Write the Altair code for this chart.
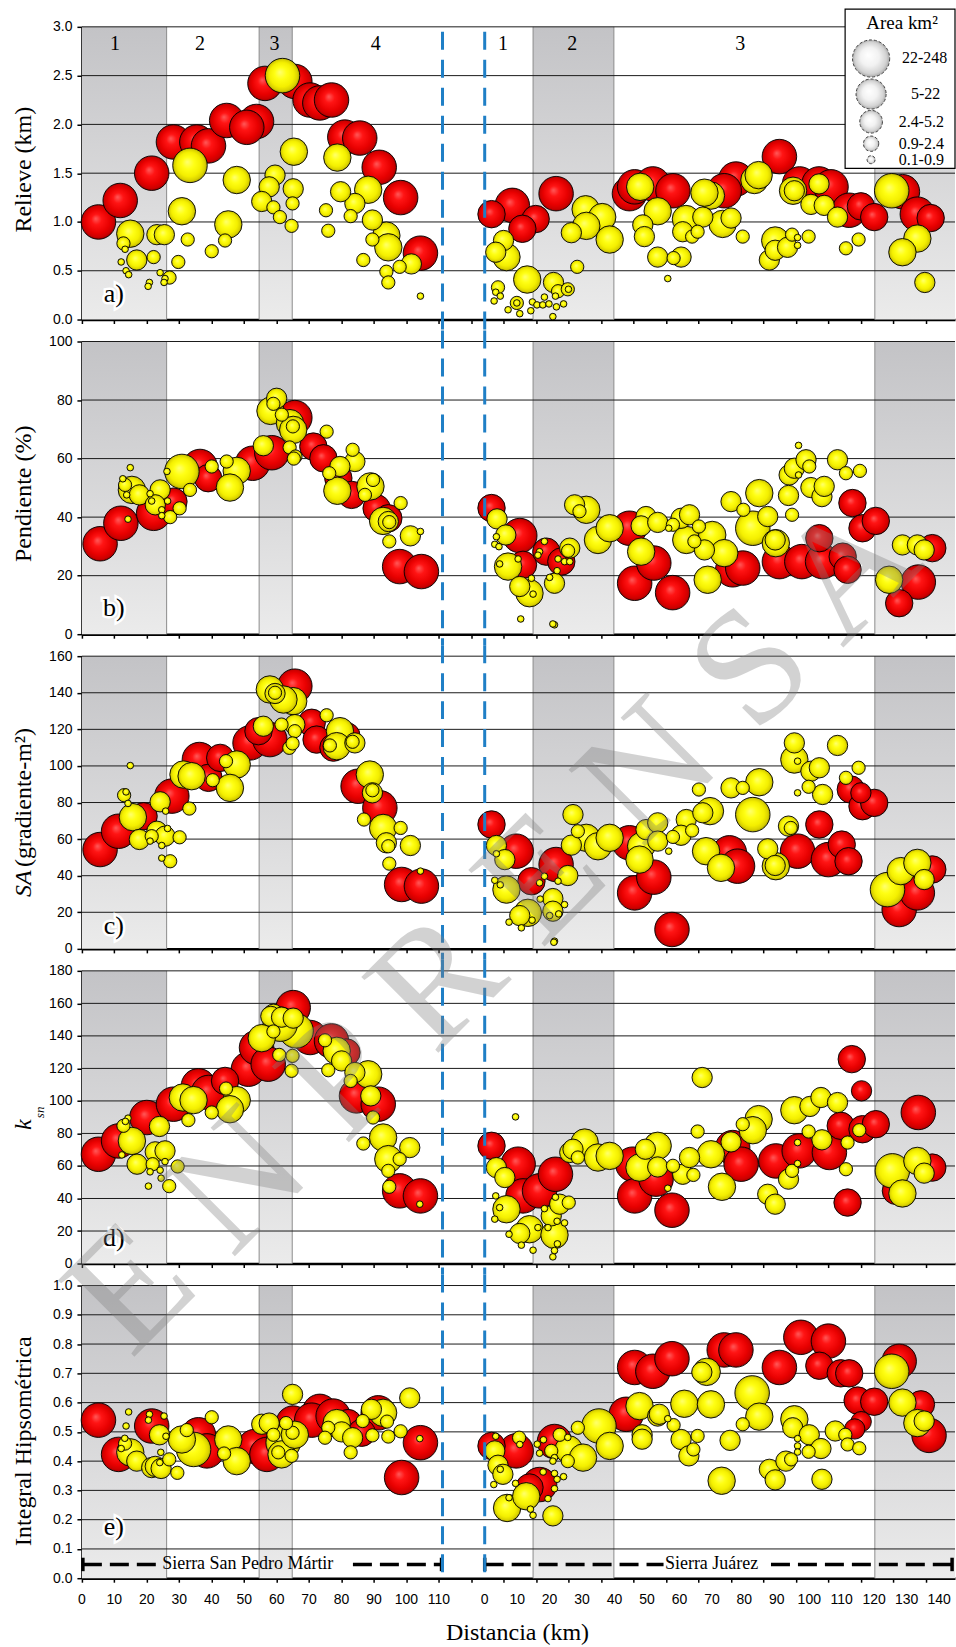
import altair as alt
import pandas as pd

# Bubble records: (sierra, distance km, value, area class)
# sierra: "L" = Sierra San Pedro Mártir, "R" = Sierra Juárez
# area class: 1 = 22-248, 2 = 5-22, 3 = 2.4-5.2, 4 = 0.9-2.4, 5 = 0.1-0.9 km²

A_RED = [
    ("L", 5.1, 1.00, 1), ("L", 11.8, 1.22, 1), ("L", 21.5, 1.50, 1), ("L", 28.2, 1.82, 1),
    ("L", 35.4, 1.82, 1), ("L", 39.0, 1.78, 1), ("L", 44.6, 2.04, 1), ("L", 53.8, 2.03, 1),
    ("L", 50.8, 1.97, 1), ("L", 56.4, 2.42, 1), ("L", 65.6, 2.44, 1), ("L", 70.3, 2.25, 1),
    ("L", 73.3, 2.22, 1), ("L", 76.9, 2.25, 1), ("L", 81.0, 1.87, 1), ("L", 85.6, 1.86, 1),
    ("L", 91.6, 1.56, 1), ("L", 98.2, 1.25, 1), ("L", 104.3, 0.68, 1),
    ("R", 2.1, 1.08, 2), ("R", 8.5, 1.17, 1), ("R", 15.7, 1.03, 2), ("R", 11.6, 0.93, 2),
    ("R", 22.0, 1.29, 1), ("R", 44.6, 1.29, 1), ("R", 46.2, 1.36, 1), ("R", 51.8, 1.39, 1),
    ("R", 58.0, 1.32, 1), ("R", 77.4, 1.44, 1), ("R", 73.8, 1.32, 1), ("R", 90.8, 1.67, 1),
    ("R", 97.0, 1.39, 1), ("R", 103.0, 1.39, 1), ("R", 106.7, 1.36, 1), ("R", 112.3, 1.12, 1),
    ("R", 115.9, 1.16, 2), ("R", 120.0, 1.05, 2), ("R", 128.7, 1.31, 1), ("R", 133.3, 1.08, 1),
    ("R", 137.4, 1.04, 2),
]
A_YEL = [
    ("L", 61.8, 2.50, 1), ("L", 33.3, 1.58, 1), ("L", 47.7, 1.43, 2), ("L", 65.3, 1.72, 2),
    ("L", 78.7, 1.66, 2), ("L", 30.8, 1.11, 2), ("L", 45.1, 0.975, 2), ("L", 14.9, 0.88, 2),
    ("L", 23.1, 0.87, 3), ("L", 25.4, 0.87, 3), ("L", 88.2, 1.33, 2), ("L", 93.8, 0.86, 2),
    ("L", 94.4, 0.74, 2), ("L", 101.5, 0.57, 3), ("L", 89.5, 1.02, 3), ("L", 84.1, 1.19, 3),
    ("L", 79.7, 1.31, 3), ("L", 59.5, 1.48, 3), ("L", 57.7, 1.36, 3), ("L", 55.4, 1.21, 3),
    ("L", 65.1, 1.34, 3), ("L", 16.9, 0.61, 3),
    ("L", 59.0, 1.15, 4), ("L", 61.0, 1.05, 4), ("L", 64.9, 1.19, 4), ("L", 64.6, 0.96, 4),
    ("L", 75.2, 1.12, 4), ("L", 75.9, 0.91, 4), ("L", 82.8, 1.06, 4), ("L", 89.5, 0.82, 4),
    ("L", 86.7, 0.61, 4), ("L", 97.9, 0.54, 4), ("L", 93.8, 0.49, 4), ("L", 94.4, 0.38, 4),
    ("L", 32.6, 0.82, 4), ("L", 29.7, 0.59, 4), ("L", 44.1, 0.81, 4), ("L", 40.0, 0.70, 4),
    ("L", 22.1, 0.64, 4), ("L", 12.8, 0.78, 4), ("L", 27.0, 0.43, 4),
    ("L", 13.3, 0.72, 5), ("L", 12.1, 0.59, 5), ("L", 13.6, 0.50, 5), ("L", 14.4, 0.46, 5),
    ("L", 20.8, 0.38, 5), ("L", 20.4, 0.34, 5), ("L", 24.1, 0.48, 5), ("L", 25.6, 0.42, 5),
    ("L", 25.3, 0.38, 5), ("L", 104.3, 0.24, 5),
    ("R", 125.4, 1.32, 1), ("R", 133.3, 0.83, 2), ("R", 128.7, 0.69, 2), ("R", 135.6, 0.38, 3),
    ("R", 47.9, 1.36, 2), ("R", 53.3, 1.11, 2), ("R", 48.7, 0.97, 3), ("R", 49.2, 0.85, 3),
    ("R", 53.3, 0.64, 3), ("R", 60.5, 0.64, 3), ("R", 58.2, 0.63, 4), ("R", 56.4, 0.42, 5),
    ("R", 69.7, 1.27, 2), ("R", 67.7, 1.30, 2), ("R", 62.0, 1.03, 2), ("R", 67.2, 1.05, 3),
    ("R", 61.0, 0.90, 3), ("R", 63.9, 0.85, 4), ("R", 65.6, 0.90, 4), ("R", 73.3, 0.98, 2),
    ("R", 75.9, 1.04, 3), ("R", 79.5, 0.85, 4), ("R", 83.1, 1.43, 2), ("R", 84.4, 1.48, 2),
    ("R", 89.5, 0.81, 2), ("R", 87.7, 0.61, 3), ("R", 89.5, 0.71, 3), ("R", 93.3, 0.74, 3),
    ("R", 94.7, 0.87, 4), ("R", 96.4, 0.84, 5), ("R", 96.4, 0.76, 5), ("R", 99.8, 0.85, 4),
    ("R", 95.0, 1.32, 2), ("R", 95.4, 1.32, 3), ("R", 103.0, 1.39, 3), ("R", 100.5, 1.18, 3),
    ("R", 104.6, 1.17, 3), ("R", 108.7, 1.05, 3), ("R", 111.3, 0.73, 4), ("R", 115.2, 0.82, 4),
    ("R", 5.8, 0.81, 3), ("R", 3.4, 0.69, 3), ("R", 6.7, 0.64, 2), ("R", 13.1, 0.41, 2),
    ("R", 21.2, 0.38, 3), ("R", 22.6, 0.29, 4), ("R", 25.6, 0.31, 4), ("R", 25.8, 0.31, 5),
    ("R", 28.5, 0.54, 4), ("R", 4.1, 0.33, 4), ("R", 3.4, 0.28, 5), ("R", 4.8, 0.24, 5),
    ("R", 2.9, 0.19, 5), ("R", 9.9, 0.17, 4), ("R", 9.9, 0.17, 5), ("R", 7.2, 0.10, 5),
    ("R", 10.8, 0.06, 5), ("R", 14.2, 0.09, 5), ("R", 14.7, 0.18, 5), ("R", 16.1, 0.15, 5),
    ("R", 17.9, 0.15, 5), ("R", 18.4, 0.23, 5), ("R", 19.8, 0.16, 5), ("R", 22.1, 0.13, 5),
    ("R", 21.8, 0.24, 5), ("R", 24.3, 0.16, 5), ("R", 21.0, 0.03, 5),
    ("R", 31.1, 1.13, 2), ("R", 36.2, 1.05, 2), ("R", 31.3, 0.96, 2), ("R", 26.7, 0.89, 3),
    ("R", 38.5, 0.82, 2),
]

B_RED = [
    ("L", 5.6, 30.9, 1), ("L", 12.0, 37.9, 1), ("L", 22.1, 41.3, 1), ("L", 28.2, 45.3, 2),
    ("L", 36.4, 57.3, 1), ("L", 38.9, 53.3, 2), ("L", 52.6, 58.4, 1), ("L", 58.5, 62.0, 1),
    ("L", 65.6, 74.0, 1), ("L", 71.3, 64.1, 2), ("L", 74.4, 60.1, 2), ("L", 79.0, 53.3, 2),
    ("L", 83.1, 47.6, 2), ("L", 90.8, 43.0, 2), ("L", 94.4, 39.6, 2), ("L", 97.9, 23.1, 1),
    ("L", 104.6, 21.4, 1),
    ("R", 2.1, 43.1, 2), ("R", 10.8, 33.7, 1), ("R", 11.8, 23.7, 2), ("R", 19.0, 28.2, 2),
    ("R", 23.6, 24.8, 2), ("R", 44.6, 36.2, 1), ("R", 46.2, 17.4, 1), ("R", 52.1, 24.3, 1),
    ("R", 57.9, 14.2, 1), ("R", 76.4, 22.0, 1), ("R", 79.5, 22.6, 1), ("R", 90.8, 24.8, 1),
    ("R", 97.7, 24.8, 1), ("R", 103.1, 32.8, 2), ("R", 104.1, 24.8, 1), ("R", 110.3, 26.5, 2),
    ("R", 111.8, 22.0, 2), ("R", 113.3, 44.8, 2), ("R", 116.4, 36.2, 2), ("R", 120.5, 38.7, 2),
    ("R", 137.9, 29.4, 2), ("R", 127.7, 10.6, 2), ("R", 133.6, 17.8, 1),
]
B_YEL = [
    ("L", 60.0, 80.6, 3), ("L", 59.0, 78.7, 4), ("L", 61.6, 75.0, 4), ("L", 58.1, 76.3, 2),
    ("L", 64.1, 72.1, 2), ("L", 65.1, 69.8, 2), ("L", 65.0, 71.0, 4), ("L", 64.0, 63.8, 4),
    ("L", 65.8, 60.7, 4), ("L", 65.3, 60.0, 4), ("L", 55.9, 64.4, 3), ("L", 75.4, 69.2, 4),
    ("L", 83.4, 63.0, 4), ("L", 84.1, 59.0, 3), ("L", 79.5, 57.3, 3), ("L", 76.2, 55.0, 4),
    ("L", 78.7, 49.0, 2), ("L", 88.9, 50.5, 2), ("L", 89.7, 52.7, 4), ("L", 87.2, 47.6, 4),
    ("L", 92.8, 38.7, 2), ("L", 94.4, 38.5, 3), ("L", 94.7, 38.3, 4), ("L", 94.7, 31.7, 4),
    ("L", 98.2, 44.8, 4), ("L", 101.2, 33.6, 3), ("L", 104.3, 35.1, 5),
    ("L", 15.4, 49.3, 2), ("L", 17.7, 47.6, 3), ("L", 13.3, 51.0, 4), ("L", 12.6, 53.1, 5),
    ("L", 14.9, 56.9, 5), ("L", 13.8, 47.6, 5), ("L", 14.2, 39.3, 5), ("L", 24.1, 49.3, 3),
    ("L", 22.6, 44.2, 3), ("L", 21.0, 48.0, 5), ("L", 21.5, 45.5, 5), ("L", 24.6, 42.5, 5),
    ("L", 24.6, 40.5, 5), ("L", 26.4, 45.5, 5), ("L", 26.2, 55.6, 5), ("L", 27.2, 40.0, 4),
    ("L", 30.1, 43.0, 4), ("L", 30.8, 55.6, 1), ("L", 33.3, 49.3, 4), ("L", 40.0, 57.3, 4),
    ("L", 44.6, 59.0, 4), ("L", 47.7, 55.8, 2), ("L", 45.6, 50.1, 2),
    ("R", 3.8, 39.4, 3), ("R", 6.5, 33.9, 3), ("R", 3.6, 33.3, 5), ("R", 3.1, 30.7, 5),
    ("R", 4.4, 29.9, 5), ("R", 7.2, 23.1, 2), ("R", 4.6, 24.0, 5), ("R", 10.3, 25.7, 5),
    ("R", 10.8, 16.3, 3), ("R", 13.8, 14.0, 2), ("R", 14.4, 19.1, 5), ("R", 14.9, 13.7, 5),
    ("R", 11.1, 5.2, 5), ("R", 16.9, 28.2, 5), ("R", 18.4, 31.7, 5), ("R", 16.4, 27.0, 5),
    ("R", 21.5, 17.4, 3), ("R", 20.0, 19.4, 5), ("R", 22.3, 21.7, 5), ("R", 21.5, 3.2, 5),
    ("R", 21.0, 3.5, 5), ("R", 26.2, 29.4, 3), ("R", 25.7, 28.5, 4), ("R", 22.6, 25.7, 5),
    ("R", 24.6, 24.8, 5), ("R", 26.2, 24.8, 5), ("R", 27.7, 44.2, 3), ("R", 29.2, 42.0, 4),
    ("R", 31.3, 42.5, 2), ("R", 34.9, 32.2, 2), ("R", 38.5, 36.2, 2),
    ("R", 49.7, 40.2, 3), ("R", 48.2, 37.0, 3), ("R", 53.3, 38.2, 3), ("R", 48.2, 28.2, 2),
    ("R", 58.0, 37.4, 4), ("R", 56.7, 36.2, 5), ("R", 60.5, 39.6, 3), ("R", 63.1, 40.8, 3),
    ("R", 66.0, 36.8, 4), ("R", 62.1, 32.2, 2), ("R", 70.1, 33.9, 2), ("R", 64.6, 31.7, 4),
    ("R", 67.7, 28.8, 3), ("R", 73.8, 27.7, 2), ("R", 68.7, 18.6, 2), ("R", 75.9, 45.3, 3),
    ("R", 84.6, 48.2, 2), ("R", 79.7, 42.5, 4), ("R", 82.6, 36.2, 1), ("R", 87.2, 40.2, 3),
    ("R", 89.7, 31.1, 2), ("R", 89.5, 32.2, 3),
    ("R", 93.8, 54.4, 3), ("R", 95.4, 56.7, 3), ("R", 99.0, 59.6, 3), ("R", 100.0, 57.3, 4),
    ("R", 96.7, 54.4, 5), ("R", 96.7, 64.5, 5), ("R", 93.6, 47.4, 3), ("R", 94.7, 40.8, 4),
    ("R", 100.5, 50.1, 3), ("R", 103.9, 47.0, 3), ("R", 104.6, 50.5, 3), ("R", 108.7, 59.6, 3),
    ("R", 111.3, 55.0, 4), ("R", 115.6, 55.8, 4),
    ("R", 124.6, 18.6, 2), ("R", 128.7, 30.5, 3), ("R", 133.3, 30.5, 3), ("R", 135.4, 28.8, 3),
]

C_RED = [
    ("L", 5.6, 54.3, 1), ("L", 11.3, 64.3, 1), ("L", 19.0, 72.5, 2), ("L", 27.7, 83.5, 1),
    ("L", 36.2, 103.5, 1), ("L", 39.0, 93.5, 2), ("L", 42.6, 104.4, 2), ("L", 51.8, 112.6, 1),
    ("L", 54.4, 119.0, 2), ("L", 57.9, 114.4, 1), ("L", 65.6, 143.6, 1), ("L", 70.8, 123.6, 2),
    ("L", 72.3, 114.4, 2), ("L", 81.5, 116.3, 2), ("L", 77.5, 110.0, 2), ("L", 85.1, 88.9, 1),
    ("L", 91.8, 77.1, 1), ("L", 98.5, 35.2, 1), ("L", 104.6, 34.3, 1),
    ("R", 2.1, 68.0, 2), ("R", 9.7, 53.4, 1), ("R", 14.4, 37.0, 2), ("R", 22.0, 46.1, 1),
    ("R", 44.6, 58.0, 1), ("R", 46.2, 30.6, 1), ("R", 52.1, 39.2, 1), ("R", 57.7, 10.6, 1),
    ("R", 75.4, 52.5, 1), ("R", 77.9, 45.2, 1), ("R", 96.4, 53.4, 1), ("R", 103.1, 68.0, 2),
    ("R", 105.9, 48.8, 1), ("R", 110.0, 57.0, 2), ("R", 112.1, 47.9, 2), ("R", 112.8, 87.1, 2),
    ("R", 116.4, 78.0, 2), ("R", 120.0, 79.8, 2), ("R", 115.9, 85.3, 3), ("R", 127.7, 21.5, 1),
    ("R", 133.3, 30.6, 1), ("R", 137.9, 43.4, 2),
]
C_YEL = [
    ("L", 57.9, 141.8, 2), ("L", 59.5, 139.6, 3), ("L", 59.5, 140.0, 4), ("L", 65.1, 135.4, 2),
    ("L", 62.1, 136.3, 2), ("L", 55.9, 121.7, 3), ("L", 61.5, 122.6, 4), ("L", 65.6, 122.6, 3),
    ("L", 65.6, 119.0, 4), ("L", 63.9, 109.9, 4), ("L", 64.9, 112.3, 4), ("L", 75.4, 127.7, 4),
    ("L", 79.5, 119.0, 2), ("L", 78.5, 110.8, 2), ("L", 76.4, 111.2, 4), ("L", 84.1, 112.6, 3),
    ("L", 83.4, 113.2, 4), ("L", 88.7, 95.3, 2), ("L", 89.5, 85.3, 3), ("L", 89.5, 86.7, 4),
    ("L", 86.9, 70.7, 4), ("L", 92.8, 66.1, 2), ("L", 93.8, 58.0, 3), ("L", 94.4, 56.1, 4),
    ("L", 98.2, 66.1, 4), ("L", 101.2, 56.5, 3), ("L", 94.7, 46.6, 4), ("L", 104.3, 42.5, 5),
    ("L", 14.9, 100.2, 5), ("L", 13.0, 84.0, 4), ("L", 13.6, 85.8, 5), ("L", 14.2, 79.5, 5),
    ("L", 15.7, 72.0, 2), ("L", 17.7, 59.8, 3), ("L", 24.1, 80.4, 3), ("L", 25.8, 75.3, 5),
    ("L", 23.1, 64.3, 3), ("L", 25.6, 61.6, 3), ("L", 21.5, 61.6, 4), ("L", 21.0, 58.9, 5),
    ("L", 26.4, 65.8, 5), ("L", 24.6, 56.5, 5), ("L", 24.6, 49.6, 5), ("L", 27.2, 47.9, 4),
    ("L", 30.1, 61.0, 4), ("L", 31.3, 95.3, 2), ("L", 33.8, 94.4, 2), ("L", 33.1, 76.7, 4),
    ("L", 40.3, 92.2, 4), ("L", 44.4, 102.6, 4), ("L", 47.7, 100.8, 2), ("L", 45.6, 88.0, 2),
    ("R", 3.6, 56.5, 3), ("R", 6.2, 48.8, 3), ("R", 3.6, 52.0, 5), ("R", 6.7, 32.4, 2),
    ("R", 3.1, 37.5, 5), ("R", 4.8, 35.0, 5), ("R", 13.3, 19.7, 2), ("R", 10.8, 18.2, 3),
    ("R", 7.5, 14.6, 5), ("R", 11.3, 11.5, 5), ("R", 14.6, 15.7, 5), ("R", 17.1, 27.2, 5),
    ("R", 18.4, 39.7, 5), ("R", 16.9, 36.1, 5), ("R", 21.0, 27.5, 3), ("R", 21.0, 20.6, 3),
    ("R", 22.8, 19.1, 5), ("R", 20.0, 18.2, 5), ("R", 24.6, 24.2, 5), ("R", 21.5, 4.2, 5),
    ("R", 21.3, 3.6, 5), ("R", 25.6, 40.1, 3), ("R", 22.6, 37.0, 5), ("R", 27.2, 73.4, 3),
    ("R", 28.7, 64.3, 4), ("R", 26.7, 56.7, 3), ("R", 31.3, 60.7, 2), ("R", 34.9, 56.1, 2),
    ("R", 38.5, 60.7, 2),
    ("R", 49.7, 65.2, 3), ("R", 48.2, 56.1, 2), ("R", 47.7, 48.8, 2), ("R", 53.3, 68.9, 3),
    ("R", 53.3, 58.9, 3), ("R", 58.0, 61.2, 4), ("R", 56.7, 53.4, 5), ("R", 62.1, 70.7, 3),
    ("R", 63.9, 64.7, 4), ("R", 60.5, 62.1, 3), ("R", 66.0, 87.1, 4), ("R", 69.4, 75.3, 2),
    ("R", 67.2, 74.4, 3), ("R", 68.2, 53.4, 2), ("R", 72.8, 44.3, 2), ("R", 75.9, 88.0, 3),
    ("R", 79.5, 88.0, 4), ("R", 84.6, 91.1, 2), ("R", 82.6, 73.4, 1), ("R", 87.2, 54.7, 3),
    ("R", 89.7, 45.2, 2), ("R", 89.5, 45.6, 3), ("R", 93.6, 67.1, 3), ("R", 94.3, 66.1, 4),
    ("R", 95.4, 112.6, 3), ("R", 95.4, 103.5, 2), ("R", 96.4, 102.6, 5), ("R", 100.5, 97.1, 3),
    ("R", 103.1, 99.0, 3), ("R", 99.8, 88.6, 4), ("R", 96.4, 85.3, 5), ("R", 104.1, 84.4, 3),
    ("R", 108.7, 111.2, 3), ("R", 111.3, 93.5, 4), ("R", 115.2, 99.0, 4),
    ("R", 124.1, 32.4, 1), ("R", 128.2, 42.5, 2), ("R", 133.3, 47.0, 2), ("R", 135.4, 37.9, 3),
]

D_RED = [
    ("L", 5.1, 67.2, 1), ("L", 11.3, 75.4, 1), ("L", 20.0, 89.8, 1), ("L", 28.2, 98.0, 1),
    ("L", 35.9, 109.3, 1), ("L", 39.0, 105.2, 1), ("L", 44.1, 112.3, 2), ("L", 51.3, 119.5, 1),
    ("L", 53.8, 132.8, 1), ("L", 57.4, 122.6, 1), ("L", 65.1, 157.4, 1), ("L", 70.3, 139.0, 1),
    ("L", 76.9, 136.9, 1), ("L", 81.5, 129.8, 2), ("L", 84.6, 103.1, 1), ("L", 91.3, 98.0, 1),
    ("L", 97.9, 44.7, 1), ("L", 104.3, 41.6, 1),
    ("R", 2.1, 72.4, 2), ("R", 10.3, 61.1, 1), ("R", 11.8, 41.6, 1), ("R", 16.9, 44.7, 1),
    ("R", 21.8, 54.9, 1), ("R", 45.6, 61.1, 1), ("R", 46.2, 41.6, 1), ("R", 52.8, 51.9, 1),
    ("R", 57.7, 32.8, 1), ("R", 76.4, 71.3, 1), ("R", 79.0, 61.1, 1), ("R", 89.7, 63.1, 1),
    ("R", 96.9, 69.3, 1), ("R", 106.2, 68.3, 1), ("R", 109.7, 84.7, 2), ("R", 116.4, 82.6, 2),
    ("R", 120.5, 85.7, 2), ("R", 113.1, 125.7, 2), ("R", 116.1, 106.2, 3), ("R", 111.8, 37.5, 2),
    ("R", 133.6, 92.9, 1), ("R", 137.9, 59.0, 2), ("R", 126.7, 44.7, 2),
]
D_YEL = [
    ("L", 59.0, 153.3, 3), ("L", 58.2, 152.0, 3), ("L", 61.5, 151.5, 3), ("L", 65.1, 150.9, 3),
    ("L", 59.0, 142.7, 4), ("L", 66.0, 143.1, 1), ("L", 61.1, 147.2, 1), ("L", 55.4, 138.6, 2),
    ("L", 60.8, 128.3, 4), ("L", 64.9, 127.7, 4), ("L", 64.6, 118.5, 4), ("L", 74.9, 137.3, 4),
    ("L", 78.5, 130.8, 2), ("L", 75.9, 118.9, 4), ("L", 80.0, 124.6, 3), ("L", 84.1, 117.5, 3),
    ("L", 88.2, 116.4, 2), ("L", 82.8, 112.3, 4), ("L", 89.0, 103.1, 3), ("L", 89.7, 89.8, 4),
    ("L", 92.8, 77.5, 2), ("L", 86.7, 73.8, 4), ("L", 101.0, 71.3, 3), ("L", 94.4, 64.2, 2),
    ("L", 97.9, 64.2, 4), ("L", 94.4, 57.0, 4), ("L", 94.7, 47.2, 4), ("L", 104.1, 36.5, 5),
    ("L", 31.1, 102.1, 2), ("L", 34.4, 100.5, 2), ("L", 32.8, 88.2, 4), ("L", 44.4, 107.6, 4),
    ("L", 47.7, 100.5, 2), ("L", 45.6, 94.9, 2), ("L", 40.0, 92.9, 4),
    ("L", 12.8, 84.7, 4), ("L", 14.2, 89.4, 5), ("L", 13.4, 87.4, 5), ("L", 15.4, 75.4, 2),
    ("L", 12.3, 66.8, 5), ("L", 17.0, 61.1, 3), ("L", 23.9, 84.3, 3), ("L", 22.6, 68.7, 3),
    ("L", 25.6, 69.3, 3), ("L", 21.8, 61.1, 4), ("L", 21.0, 56.4, 5), ("L", 24.1, 57.4, 5),
    ("L", 25.6, 62.7, 5), ("L", 24.4, 52.5, 5), ("L", 20.5, 47.6, 5), ("L", 26.9, 47.6, 4),
    ("L", 29.5, 59.7, 4),
    ("R", 3.6, 59.0, 3), ("R", 6.2, 52.9, 3), ("R", 9.5, 90.2, 5), ("R", 6.7, 33.4, 2),
    ("R", 3.4, 41.6, 5), ("R", 4.6, 34.4, 5), ("R", 3.1, 27.3, 5), ("R", 13.8, 21.1, 2),
    ("R", 10.8, 18.5, 3), ("R", 7.5, 18.0, 5), ("R", 11.3, 11.3, 5), ("R", 14.9, 8.2, 5),
    ("R", 16.4, 22.1, 5), ("R", 20.5, 29.3, 3), ("R", 21.5, 17.6, 2), ("R", 18.4, 33.8, 5),
    ("R", 21.8, 40.8, 5), ("R", 22.3, 26.0, 5), ("R", 24.6, 25.0, 5), ("R", 19.5, 22.1, 5),
    ("R", 22.4, 12.1, 5), ("R", 21.5, 8.0, 5), ("R", 21.0, 4.1, 5), ("R", 23.1, 36.5, 3),
    ("R", 25.9, 37.5, 4),
    ("R", 26.2, 68.3, 3), ("R", 30.8, 74.4, 2), ("R", 28.7, 65.2, 4), ("R", 34.9, 65.2, 2),
    ("R", 38.5, 66.2, 2), ("R", 27.2, 70.3, 3),
    ("R", 47.7, 59.0, 2), ("R", 49.5, 70.3, 3), ("R", 53.3, 72.4, 2), ("R", 53.3, 59.4, 3),
    ("R", 58.0, 60.1, 4), ("R", 56.4, 46.3, 5), ("R", 61.0, 54.9, 3), ("R", 63.1, 65.2, 3),
    ("R", 64.3, 54.5, 4), ("R", 65.6, 81.2, 4), ("R", 67.0, 114.4, 3), ("R", 69.7, 67.2, 2),
    ("R", 73.1, 47.2, 2), ("R", 75.9, 74.8, 3), ("R", 79.5, 85.7, 4), ("R", 84.4, 88.8, 2),
    ("R", 82.6, 82.0, 2),
    ("R", 87.2, 42.6, 3), ("R", 89.5, 36.5, 3), ("R", 93.6, 51.9, 3), ("R", 94.7, 57.0, 4),
    ("R", 96.4, 61.5, 5), ("R", 96.4, 74.4, 5), ("R", 95.4, 94.3, 2), ("R", 100.2, 96.6, 3),
    ("R", 103.6, 102.1, 3), ("R", 108.7, 99.0, 3), ("R", 99.8, 81.2, 4), ("R", 103.9, 76.1, 3),
    ("R", 111.8, 74.4, 4), ("R", 115.4, 82.0, 4), ("R", 111.3, 58.0, 4),
    ("R", 125.6, 57.0, 1), ("R", 128.7, 43.1, 2), ("R", 133.3, 63.1, 2), ("R", 135.4, 55.6, 3),
]

E_RED = [
    ("L", 5.1, 0.540, 1), ("L", 11.3, 0.423, 1), ("L", 21.5, 0.520, 1), ("L", 35.9, 0.490, 1),
    ("L", 38.5, 0.435, 1), ("L", 53.3, 0.450, 1), ("L", 57.0, 0.423, 1), ("L", 65.1, 0.530, 1),
    ("L", 73.3, 0.570, 1), ("L", 70.8, 0.540, 1), ("L", 77.4, 0.554, 1), ("L", 82.0, 0.530, 2),
    ("L", 86.2, 0.497, 2), ("L", 91.3, 0.565, 1), ("L", 98.5, 0.344, 1), ("L", 104.3, 0.463, 1),
    ("R", 2.1, 0.452, 2), ("R", 9.7, 0.435, 1), ("R", 13.8, 0.310, 2), ("R", 16.9, 0.320, 1),
    ("R", 21.5, 0.467, 1), ("R", 43.6, 0.560, 1), ("R", 46.2, 0.720, 1), ("R", 51.8, 0.707, 1),
    ("R", 57.7, 0.750, 1), ("R", 73.8, 0.780, 1), ("R", 77.4, 0.780, 1), ("R", 90.8, 0.720, 1),
    ("R", 97.4, 0.823, 1), ("R", 105.9, 0.810, 1), ("R", 103.1, 0.726, 2), ("R", 109.7, 0.700, 2),
    ("R", 112.3, 0.700, 2), ("R", 114.9, 0.607, 2), ("R", 120.0, 0.603, 2), ("R", 116.0, 0.535, 3),
    ("R", 114.0, 0.510, 3), ("R", 127.7, 0.741, 1), ("R", 134.4, 0.594, 2), ("R", 136.9, 0.488, 1),
]
E_YEL = [
    ("L", 64.9, 0.628, 3), ("L", 101.0, 0.616, 3), ("L", 40.0, 0.550, 4), ("L", 14.4, 0.568, 5),
    ("L", 13.6, 0.520, 5), ("L", 13.2, 0.478, 5), ("L", 12.1, 0.443, 5), ("L", 13.3, 0.460, 4),
    ("L", 14.9, 0.430, 2), ("L", 16.9, 0.400, 3), ("L", 20.8, 0.560, 5), ("L", 20.5, 0.540, 5),
    ("L", 25.3, 0.554, 5), ("L", 23.9, 0.490, 3), ("L", 25.9, 0.485, 5), ("L", 21.5, 0.378, 3),
    ("L", 22.6, 0.382, 3), ("L", 24.3, 0.430, 5), ("L", 24.0, 0.395, 5), ("L", 26.9, 0.406, 4),
    ("L", 29.4, 0.360, 4), ("L", 24.4, 0.375, 3), ("L", 32.3, 0.506, 4), ("L", 30.8, 0.474, 2),
    ("L", 34.4, 0.440, 1), ("L", 45.1, 0.474, 2), ("L", 47.7, 0.400, 2), ("L", 43.8, 0.426, 4),
    ("L", 55.4, 0.526, 3), ("L", 57.7, 0.530, 3), ("L", 59.0, 0.490, 4), ("L", 62.0, 0.463, 1),
    ("L", 61.5, 0.423, 2), ("L", 60.5, 0.430, 4), ("L", 64.6, 0.418, 4), ("L", 64.9, 0.497, 4),
    ("L", 62.9, 0.530, 4), ("L", 65.6, 0.490, 2), ("L", 75.9, 0.514, 4), ("L", 74.9, 0.480, 4),
    ("L", 78.5, 0.530, 2), ("L", 80.0, 0.500, 3), ("L", 83.4, 0.480, 3), ("L", 82.8, 0.430, 4),
    ("L", 86.5, 0.537, 4), ("L", 89.2, 0.577, 3), ("L", 92.8, 0.565, 2), ("L", 89.5, 0.488, 4),
    ("L", 94.0, 0.535, 4), ("L", 94.4, 0.484, 4), ("L", 98.2, 0.502, 4), ("L", 104.1, 0.477, 5),
    ("R", 3.1, 0.435, 3), ("R", 3.4, 0.485, 5), ("R", 10.6, 0.480, 4), ("R", 10.8, 0.457, 5),
    ("R", 4.1, 0.386, 3), ("R", 4.8, 0.372, 5), ("R", 2.8, 0.320, 5), ("R", 5.6, 0.355, 3),
    ("R", 6.9, 0.240, 2), ("R", 12.8, 0.280, 2), ("R", 7.5, 0.275, 5), ("R", 9.5, 0.324, 5),
    ("R", 14.1, 0.236, 5), ("R", 14.9, 0.215, 5), ("R", 21.0, 0.213, 3), ("R", 19.5, 0.272, 5),
    ("R", 18.0, 0.363, 5), ("R", 21.5, 0.358, 5), ("R", 22.3, 0.338, 5), ("R", 24.3, 0.347, 5),
    ("R", 21.5, 0.306, 5), ("R", 16.2, 0.458, 5), ("R", 18.1, 0.473, 5), ("R", 16.9, 0.427, 5),
    ("R", 20.5, 0.435, 4), ("R", 21.5, 0.412, 5), ("R", 21.0, 0.400, 5), ("R", 23.1, 0.490, 4),
    ("R", 25.6, 0.481, 5), ("R", 25.9, 0.440, 2), ("R", 25.6, 0.400, 4), ("R", 28.7, 0.514, 4),
    ("R", 30.3, 0.412, 2), ("R", 35.2, 0.520, 1), ("R", 38.5, 0.452, 2),
    ("R", 47.7, 0.588, 2), ("R", 48.5, 0.490, 3), ("R", 48.5, 0.475, 3), ("R", 53.3, 0.554, 3),
    ("R", 53.8, 0.560, 3), ("R", 56.4, 0.545, 5), ("R", 58.2, 0.523, 4), ("R", 61.5, 0.596, 2),
    ("R", 60.5, 0.474, 3), ("R", 65.6, 0.486, 4), ("R", 64.3, 0.440, 4), ("R", 62.9, 0.418, 3),
    ("R", 68.4, 0.705, 2), ("R", 66.9, 0.704, 3), ("R", 69.7, 0.594, 2), ("R", 75.6, 0.471, 3),
    ("R", 73.0, 0.333, 2), ("R", 82.4, 0.633, 1), ("R", 84.6, 0.552, 2), ("R", 79.5, 0.526, 4),
    ("R", 95.4, 0.543, 2), ("R", 94.9, 0.514, 3), ("R", 100.0, 0.490, 3), ("R", 103.6, 0.443, 3),
    ("R", 99.8, 0.432, 4), ("R", 96.4, 0.477, 5), ("R", 96.4, 0.452, 5), ("R", 96.4, 0.431, 5),
    ("R", 87.7, 0.372, 3), ("R", 89.5, 0.336, 3), ("R", 92.8, 0.400, 3), ("R", 94.4, 0.406, 4),
    ("R", 103.9, 0.338, 3), ("R", 108.0, 0.503, 3), ("R", 111.1, 0.490, 4), ("R", 111.8, 0.457, 4),
    ("R", 115.4, 0.444, 4),
    ("R", 125.4, 0.707, 1), ("R", 128.7, 0.600, 2), ("R", 133.3, 0.530, 2), ("R", 135.4, 0.537, 3),
]

# Morphotectonic zones (sierra, from km, to km) and their numbers
ZONES = [("L", 0.0, 26.1), ("L", 54.6, 64.8), ("R", 14.9, 39.8), ("R", 120.2, 145.0)]
ZONE_EDGES = [("L", 26.1), ("L", 54.6), ("L", 64.8), ("R", 14.9), ("R", 39.8), ("R", 120.2)]
ZONE_NAMES = [("L", 10.2, "1"), ("L", 36.4, "2"), ("L", 59.3, "3"), ("L", 90.5, "4"),
              ("R", 5.6, "1"), ("R", 27.0, "2"), ("R", 78.7, "3")]
BREAKS = [("L", 111.1), ("R", 0.0)]
SIERRA_SEGMENTS = [("L", 0.3, 23.5), ("L", 83.5, 110.8), ("R", 0.0, 55.1), ("R", 88.2, 144.0)]
SIERRA_CAPS = [("L", 0.3), ("L", 110.8), ("R", 0.0), ("R", 144.0)]
SIERRA_NAMES = [("L", 51.1, "Sierra San Pedro Mártir"), ("R", 69.9, "Sierra Juárez")]
X_TICKS_L = list(range(0, 111, 10))
X_TICKS_R = list(range(0, 141, 10))
LEGEND_CLASSES = ["22-248", "5-22", "2.4-5.2", "0.9-2.4", "0.1-0.9"]

# ---------------------------------------------------------------------------
OFFSET = 124.1          # where Sierra Juárez km 0 sits on the shared distance axis
XMAX = 269.0
W, H = 874, 293
SERIF = "Liberation Serif"
SANS = "Liberation Sans"


def pos(side, km):
    return km + OFFSET if side == "R" else km


def frame(rows):
    return pd.DataFrame([{"x": pos(s, k), "v": v, "cls": c} for s, k, v, c in rows])


def radial(stops):
    return {"gradient": "radial", "x1": 0.42, "y1": 0.4, "r1": 0.0,
            "x2": 0.5, "y2": 0.5, "r2": 0.5,
            "stops": [{"offset": o, "color": c} for o, c in stops]}


RED_FILL = radial([(0, "#ff5a5a"), (0.3, "#ff1414"), (0.7, "#e80000"), (0.9, "#cc0000"), (1, "#9c0000")])
YEL_FILL = radial([(0, "#ffff70"), (0.35, "#ffff14"), (0.7, "#f4ef00"), (0.9, "#d9d100"), (1, "#a49c00")])
GREY_FILL = radial([(0, "#ffffff"), (0.5, "#f2f2f2"), (0.85, "#d2d2d2"), (1, "#a8a8a8")])
ZONE_FILL = {"gradient": "linear", "x1": 0, "y1": 0, "x2": 0, "y2": 1,
             "stops": [{"offset": 0, "color": "#c3c3c6"}, {"offset": 1, "color": "#ebebeb"}]}

XS = alt.Scale(domain=[0, XMAX], nice=False, zero=False)
XAX = alt.Axis(values=list(range(0, 261, 10)), labels=False, title=None, grid=False,
               tickSize=4, tickWidth=1.5, tickColor="black", domainColor="black", domainWidth=2.5)
SIZE = alt.Size("cls:Q", legend=None,
                scale=alt.Scale(type="threshold", domain=[1.5, 2.5, 3.5, 4.5],
                                range=[1195, 755, 415, 177, 44]))
ONE = pd.DataFrame({"k": [0]})

zone_df = pd.DataFrame([{"a": pos(s, a), "b": min(pos(s, b), XMAX)} for s, a, b in ZONES])
edge_df = pd.DataFrame([{"x": pos(s, k)} for s, k in ZONE_EDGES])
break_df = pd.DataFrame([{"x": pos(s, k)} for s, k in BREAKS])


def text_at(txt, x, y, size, angle=0, align="center", style="normal", font=SERIF, **kw):
    return alt.Chart(ONE).mark_text(text=txt, font=font, fontSize=size, angle=angle, align=align,
                                    baseline="middle", fontStyle=style, color="black", **kw
                                    ).encode(x=alt.value(x), y=alt.value(y))


def panel(red, yel, ymax, step, fmt, letter, titles, blue, letter_y=H - 26,
          extra_below=(), extra_above=()):
    n = int(round(ymax / step))
    ticks = [round(i * step, 6) for i in range(n + 1)]
    ys = alt.Scale(domain=[0, ymax], nice=False, zero=True)
    yax = alt.Axis(values=ticks, format=fmt, title=None, grid=False, tickSize=5, tickWidth=1.5,
                   tickColor="black", domainColor="black", domainWidth=2.5, labelFont=SANS,
                   labelFontSize=14, labelColor="black", labelPadding=5)

    def X(f):
        return alt.X(f, scale=XS, axis=XAX)

    def Y(f):
        return alt.Y(f, scale=ys, axis=yax)

    zones = alt.Chart(zone_df).mark_rect(fill=ZONE_FILL).encode(
        x=X("a:Q"), x2="b:Q", y=alt.value(0), y2=alt.value(H))
    edges = alt.Chart(edge_df).mark_rule(color="#8c8c8c", strokeWidth=1).encode(
        x=X("x:Q"), y=alt.value(0), y2=alt.value(H))
    grid = alt.Chart(pd.DataFrame({"t": ticks[1:]})).mark_rule(color="#1a1a1a", strokeWidth=1).encode(
        y=Y("t:Q"), x=alt.value(0), x2=alt.value(W))

    def bubbles(rows, fill):
        return alt.Chart(frame(rows)).mark_circle(
            fill=fill, stroke="black", strokeWidth=0.9, opacity=1
        ).encode(x=X("x:Q"), y=Y("v:Q"), size=SIZE, order=alt.Order("cls:Q", sort="ascending"))

    lines = alt.Chart(break_df).mark_rule(color="#1f7fc6", strokeWidth=3, strokeDash=[18, 10]).encode(
        x=X("x:Q"), y=alt.value(blue[0]), y2=alt.value(blue[1]))
    halo = text_at(letter, 32, letter_y, 26, stroke="white", strokeWidth=5, fill="white")
    lab = text_at(letter, 32, letter_y, 26)

    layers = [zones, edges, grid]
    layers += [f(X, Y) for f in extra_below]
    layers += [bubbles(red, RED_FILL), bubbles(yel, YEL_FILL), halo, lab, lines]
    layers += list(titles)
    layers += [f(X, Y) for f in extra_above]
    return alt.layer(*layers).properties(width=W, height=H)


# ---- panel a extras: zone numbers and the area legend ----
def zone_numbers(X, Y):
    df = pd.DataFrame([{"x": pos(s, k), "v": 2.82, "t": t} for s, k, t in ZONE_NAMES])
    return alt.Chart(df).mark_text(font=SERIF, fontSize=20, color="black", baseline="middle").encode(
        x=X("x:Q"), y=Y("v:Q"), text="t:N")


LEG_Y = [31.7, 67.3, 95.0, 117.0, 133.0]
LEG_AREA = [1385, 908, 519, 235, 64]
LEG_TX = [821, 830, 817.6, 817.6, 817.6]


def legend_layers():
    out = [alt.Chart(ONE).mark_rect(fill="white", stroke="black", strokeWidth=1.2).encode(
        x=alt.value(764), x2=alt.value(W), y=alt.value(-17.7), y2=alt.value(141.7)),
        text_at("Area km²", 821, -4.3, 19)]
    for lbl, yy, ar, tx in zip(LEGEND_CLASSES, LEG_Y, LEG_AREA, LEG_TX):
        out.append(alt.Chart(ONE).mark_circle(
            fill=GREY_FILL, stroke="#444", strokeWidth=1, strokeDash=[3, 2], opacity=1, size=ar
        ).encode(x=alt.value(790), y=alt.value(yy)))
        out.append(text_at(lbl, tx, yy, 16, align="left"))
    return out


# ---- panel e extras: sierra spans, distance labels ----
def sierra_lines(X, Y):
    seg = pd.DataFrame([{"a": pos(s, a), "b": pos(s, b), "v": 0.047} for s, a, b in SIERRA_SEGMENTS])
    return alt.Chart(seg).mark_rule(color="black", strokeWidth=3.5, strokeDash=[19, 8]).encode(
        x=X("a:Q"), x2="b:Q", y=Y("v:Q"))


def sierra_caps(X, Y):
    caps = pd.DataFrame([{"x": pos(s, k), "v0": 0.024, "v1": 0.070} for s, k in SIERRA_CAPS])
    return alt.Chart(caps).mark_rule(color="black", strokeWidth=3.5).encode(
        x=X("x:Q"), y=Y("v0:Q"), y2="v1:Q")


def sierra_names(X, Y):
    df = pd.DataFrame([{"x": pos(s, k), "v": 0.047, "t": t} for s, k, t in SIERRA_NAMES])
    return alt.Chart(df).mark_text(font=SERIF, fontSize=18, color="black", baseline="middle").encode(
        x=X("x:Q"), y=Y("v:Q"), text="t:N")


def distance_labels(X, Y):
    df = pd.DataFrame([{"x": pos("L", k), "t": str(k)} for k in X_TICKS_L] +
                      [{"x": pos("R", k), "t": str(k)} for k in X_TICKS_R])
    return alt.Chart(df).mark_text(font=SANS, fontSize=14, color="black", baseline="middle").encode(
        x=X("x:Q"), y=alt.value(H + 22), text="t:N")


TX = -58.4
pa = panel(A_RED, A_YEL, 3.0, 0.5, ".1f", "a)",
           [text_at("Relieve (km)", TX, 143, 24, angle=270)] + legend_layers(),
           (5, H + 11), extra_above=[zone_numbers])
pb = panel(B_RED, B_YEL, 100, 20, "d", "b)",
           [text_at("Pendiente (%)", TX, 152.5, 24, angle=270)], (-11, H + 11))
pc = panel(C_RED, C_YEL, 160, 20, "d", "c)",
           [text_at("SA", TX, 241, 24, angle=270, align="left", style="italic"),
            text_at("(gradiente-m²)", TX, 211, 24, angle=270, align="left")], (-11, H + 11),
           letter_y=H - 23)
pd_ = panel(D_RED, D_YEL, 180, 20, "d", "d)",
            [text_at("k", -57.7, 154, 24, angle=270, style="italic"),
             text_at("sn", -41.7, 141.7, 13, angle=270, style="italic")], (-11, H + 11))
watermark = alt.Chart(ONE).mark_text(
    text="E N P R E N S A", font=SERIF, fontSize=165, angle=315, align="center", baseline="middle",
    fill="#808080", opacity=0.35).encode(x=alt.value(412), y=alt.value(-359))
pe = panel(E_RED, E_YEL, 1.0, 0.1, ".1f", "e)",
           [text_at("Integral Hipsométrica", TX, 155.7, 24, angle=270),
            text_at("Distancia (km)", 436, H + 55, 24), watermark],
           (-11, H + 3), letter_y=H - 51,
           extra_below=[sierra_lines, sierra_caps, sierra_names],
           extra_above=[distance_labels])

chart = alt.vconcat(pa, pb, pc, pd_, pe, spacing=22, bounds="flush").properties(
    padding={"left": 11, "top": 7, "right": 0, "bottom": 0}, background="white"
).configure_view(stroke=None)

chart.save("out.html", embed_options={"renderer": "svg", "actions": False})
